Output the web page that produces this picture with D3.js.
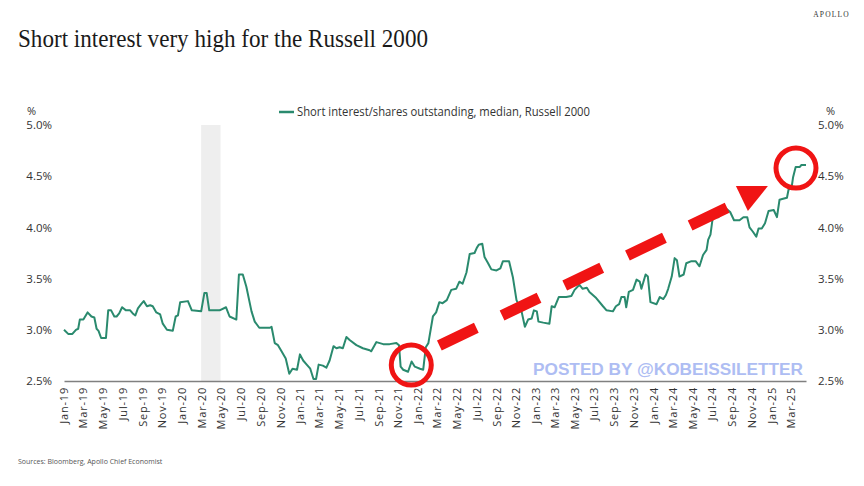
<!DOCTYPE html>
<html>
<head>
<meta charset="utf-8">
<script src="https://cdn.jsdelivr.net/npm/d3@7"></script>
<style>
  html, body { margin: 0; padding: 0; background: #fff; }
  svg { display: block; }
</style>
</head>
<body>
<div id="chart"></div>
<script>
// Median short interest / shares outstanding, Russell 2000
const dates = [
  '2019-01-01','2019-01-14','2019-01-27','2019-02-07','2019-02-14','2019-02-19','2019-03-02','2019-03-15','2019-03-27',
  '2019-04-05','2019-04-12','2019-04-18','2019-04-26','2019-05-11','2019-05-18','2019-05-27','2019-06-06','2019-06-13',
  '2019-06-21','2019-06-30','2019-07-12','2019-07-25','2019-08-02','2019-08-10','2019-08-18','2019-08-28','2019-09-05',
  '2019-09-15','2019-09-25','2019-10-03','2019-10-14','2019-10-26','2019-11-03','2019-11-16','2019-12-04','2019-12-13',
  '2019-12-20','2019-12-27','2020-01-20','2020-02-01','2020-03-01','2020-03-11','2020-03-18','2020-03-26','2020-04-27',
  '2020-05-17','2020-05-28','2020-06-18','2020-06-26','2020-07-08','2020-07-19','2020-08-04','2020-08-14','2020-08-28',
  '2020-09-30','2020-10-05','2020-10-15','2020-10-25','2020-11-05','2020-11-18','2020-11-29','2020-12-09','2020-12-23',
  '2021-01-01','2021-01-11','2021-01-22','2021-02-02','2021-02-12','2021-02-20','2021-02-28','2021-03-13','2021-03-24',
  '2021-04-03','2021-04-15','2021-04-24','2021-05-04','2021-05-14','2021-05-25','2021-06-04','2021-06-25','2021-07-15',
  '2021-08-05','2021-08-10','2021-08-26','2021-09-16','2021-10-06','2021-10-27','2021-11-04','2021-11-09','2021-11-17',
  '2021-12-02','2021-12-13','2021-12-23','2022-01-08','2022-01-18','2022-01-26','2022-02-03','2022-02-17','2022-02-27',
  '2022-03-09','2022-03-19','2022-04-01','2022-04-15','2022-04-30','2022-05-10','2022-05-20','2022-06-01','2022-06-11',
  '2022-06-26','2022-07-03','2022-07-09','2022-07-20','2022-07-27','2022-08-07','2022-08-17','2022-09-02','2022-09-14',
  '2022-09-22','2022-10-11','2022-10-23','2022-11-03','2022-11-18','2022-11-29','2022-12-09','2022-12-20','2022-12-27',
  '2023-01-05','2023-01-10','2023-01-25','2023-02-13','2023-02-20','2023-03-01','2023-03-14','2023-04-06','2023-04-22',
  '2023-05-02','2023-05-17','2023-05-27','2023-06-09','2023-06-17','2023-07-08','2023-07-29','2023-08-09','2023-08-29',
  '2023-09-07','2023-09-17','2023-09-24','2023-10-04','2023-10-09','2023-10-17','2023-10-30','2023-11-10','2023-11-20',
  '2023-11-25','2023-12-08','2023-12-15','2023-12-23','2024-01-11','2024-01-21','2024-02-01','2024-02-09','2024-02-16',
  '2024-02-27','2024-03-07','2024-03-14','2024-03-22','2024-04-04','2024-04-12','2024-04-28','2024-05-11','2024-05-23',
  '2024-06-03','2024-06-14','2024-06-19','2024-06-26','2024-07-02','2024-07-04','2024-07-20','2024-07-31','2024-08-15',
  '2024-08-26','2024-09-07','2024-09-24','2024-10-06','2024-10-18','2024-10-25','2024-11-04','2024-11-15','2024-11-22',
  '2024-12-02','2024-12-12','2024-12-23','2025-01-08','2025-01-18','2025-01-26','2025-02-06','2025-02-18','2025-02-23',
  '2025-03-04','2025-03-09','2025-03-17','2025-03-30','2025-04-04','2025-04-18'
];
const shortInterest = [
  3.00,2.96,2.96,3.00,3.01,3.10,3.10,3.17,3.13,
  3.12,3.01,2.99,2.92,2.92,3.19,3.19,3.13,3.13,
  3.16,3.22,3.19,3.19,3.16,3.14,3.21,3.25,3.28,
  3.23,3.24,3.23,3.17,3.15,3.06,3.00,2.99,3.13,
  3.14,3.27,3.28,3.19,3.18,3.36,3.36,3.19,3.19,
  3.22,3.13,3.10,3.54,3.54,3.42,3.18,3.08,3.02,
  3.02,3.03,2.87,2.85,2.79,2.72,2.57,2.62,2.61,
  2.76,2.70,2.66,2.62,2.52,2.52,2.66,2.65,2.63,
  2.70,2.84,2.82,2.83,2.82,2.93,2.90,2.85,2.82,
  2.80,2.79,2.88,2.86,2.86,2.87,2.85,2.64,2.61,
  2.59,2.69,2.64,2.62,2.61,2.83,2.87,3.13,3.17,
  3.27,3.26,3.29,3.39,3.40,3.47,3.45,3.56,3.74,
  3.75,3.80,3.83,3.84,3.71,3.65,3.59,3.58,3.60,
  3.67,3.67,3.51,3.29,3.19,3.03,3.10,3.11,3.19,
  3.18,3.08,3.07,3.06,3.23,3.22,3.32,3.32,3.33,
  3.39,3.44,3.40,3.41,3.37,3.31,3.23,3.19,3.18,
  3.23,3.25,3.32,3.32,3.22,3.37,3.39,3.49,3.47,
  3.40,3.54,3.52,3.27,3.25,3.32,3.30,3.34,3.40,
  3.52,3.70,3.68,3.52,3.54,3.65,3.67,3.67,3.62,
  3.73,3.78,3.88,3.93,4.07,4.10,4.10,4.13,4.18,
  4.15,4.07,4.07,4.10,4.10,4.00,3.96,3.91,3.99,
  3.99,4.04,4.16,4.17,4.10,4.27,4.28,4.29,4.37,
  4.38,4.49,4.59,4.59,4.61,4.61
];
const yTicks = [2.5, 3.0, 3.5, 4.0, 4.5, 5.0];
const recession = ['2020-03-01', '2020-04-30'];

// red overlay drawn on the original (anchored in data space)
const circleAnchors = [['2021-12-12', 2.656], ['2025-03-18', 4.58]];
const arrowFrom = ['2022-03-09', 2.847];
const arrowTo = ['2024-08-22', 4.20];
const arrowTip = ['2024-10-20', 4.16];

const W = 864, H = 486;
const parse = d3.timeParse('%Y-%m-%d');
const series = dates.map((d, i) => ({ date: parse(d), v: shortInterest[i] }));

const plotLeft = 64, plotRight = 806, plotTop = 125, plotBottom = 381;

const x = d3.scaleTime()
  .domain([parse('2019-01-01'), parse('2025-04-18')])
  .range([plotLeft, plotRight]);
const y = d3.scaleLinear().domain([2.5, 5.0]).range([plotBottom, plotTop]);

const svg = d3.select('#chart').append('svg')
  .attr('width', W)
  .attr('height', H);

const sans = "'Open Sans', 'Noto Sans', sans-serif";

// title + brand
svg.append('text')
  .attr('x', 18).attr('y', 47)
  .attr('textLength', 410).attr('lengthAdjust', 'spacingAndGlyphs')
  .style('font-family', "'Liberation Serif', 'DejaVu Serif', serif")
  .style('font-size', '25px')
  .style('fill', '#1a1a1a')
  .text('Short interest very high for the Russell 2000');

svg.append('text')
  .attr('x', 850).attr('y', 17)
  .style('text-anchor', 'end')
  .style('font-family', "'Liberation Serif', serif")
  .style('font-size', '7.5px')
  .style('letter-spacing', '1.2px')
  .style('fill', '#333')
  .text('APOLLO');

// recession shading
svg.append('rect')
  .attr('x', x(parse(recession[0])))
  .attr('y', plotTop)
  .attr('width', x(parse(recession[1])) - x(parse(recession[0])))
  .attr('height', plotBottom - plotTop)
  .attr('fill', '#eeeeee');

// legend
svg.append('line')
  .attr('x1', 279).attr('x2', 294).attr('y1', 112).attr('y2', 112)
  .attr('stroke', '#2a8a6e').attr('stroke-width', 2.5);
svg.append('text')
  .attr('x', 297).attr('y', 116)
  .attr('textLength', 293).attr('lengthAdjust', 'spacingAndGlyphs')
  .style('font-family', sans).style('font-size', '12px').style('fill', '#333')
  .text('Short interest/shares outstanding, median, Russell 2000');

// y axes
const fmt = d => d.toFixed(1) + '%';
const yl = svg.append('g')
  .attr('transform', `translate(56,0)`)
  .call(d3.axisLeft(y).tickValues(yTicks).tickFormat(fmt).tickSize(0).tickPadding(4));
const yr = svg.append('g')
  .attr('transform', `translate(814,0)`)
  .call(d3.axisRight(y).tickValues(yTicks).tickFormat(fmt).tickSize(0).tickPadding(4));
[yl, yr].forEach(g => {
  g.select('.domain').remove();
  g.selectAll('text')
    .style('font-family', sans).style('font-size', '11.5px').style('fill', '#333');
});
svg.append('text').attr('x', 27).attr('y', 115)
  .style('font-family', sans).style('font-size', '11px').style('fill', '#333').text('%');
svg.append('text').attr('x', 826).attr('y', 115)
  .style('font-family', sans).style('font-size', '11px').style('fill', '#333').text('%');

// x axis
const xTicks = d3.timeMonth.every(2).range(parse('2019-01-01'), parse('2025-04-01'));
const xa = svg.append('g')
  .attr('transform', `translate(0,${plotBottom})`)
  .call(d3.axisBottom(x).tickValues(xTicks).tickFormat(d3.timeFormat('%b-%y'))
    .tickSize(0).tickSizeOuter(0));
xa.select('.domain').attr('stroke', '#808080').attr('stroke-width', 1.5);
xa.selectAll('text')
  .attr('transform', 'rotate(-90)')
  .attr('x', -6).attr('y', 0).attr('dy', '0.35em')
  .style('text-anchor', 'end')
  .style('font-family', sans).style('font-size', '11px')
  .style('letter-spacing', '0.8px')
  .style('fill', '#333');

// the series
svg.append('path')
  .datum(series)
  .attr('fill', 'none')
  .attr('stroke', '#2a8a6e')
  .attr('stroke-width', 2)
  .attr('stroke-linejoin', 'round')
  .attr('d', d3.line().x(d => x(d.date)).y(d => y(d.v)));

// footer
svg.append('text')
  .attr('x', 18).attr('y', 464)
  .style('font-family', sans).style('font-size', '7px').style('fill', '#555')
  .text('Sources: Bloomberg, Apollo Chief Economist');

// watermark
svg.append('text')
  .attr('x', 533).attr('y', 375)
  .attr('textLength', 270).attr('lengthAdjust', 'spacingAndGlyphs')
  .style('font-family', "'Liberation Sans', Arial, sans-serif")
  .style('font-weight', 'bold').style('font-size', '16px')
  .style('fill', '#aebdf3')
  .text('POSTED BY @KOBEISSILETTER');

// red annotations
const red = '#f01414';
const p = a => [x(parse(a[0])), y(a[1])];
const [ax1, ay1] = p(arrowFrom), [ax2, ay2] = p(arrowTo);
svg.append('line')
  .attr('x1', ax1).attr('y1', ay1).attr('x2', ax2).attr('y2', ay2)
  .attr('stroke', red).attr('stroke-width', 11)
  .attr('stroke-dasharray', '41 28.5');
const [tx, ty] = p(arrowTip);
svg.append('path')
  .attr('d', `M${tx - 12},${ty - 25} L${tx + 20},${ty - 25} L${tx},${ty} Z`)
  .attr('fill', red);
circleAnchors.forEach(a => {
  const [cx, cy] = p(a);
  svg.append('circle')
    .attr('cx', cx).attr('cy', cy).attr('r', 20)
    .attr('fill', 'none').attr('stroke', red).attr('stroke-width', 5);
});
</script>
</body>
</html>
